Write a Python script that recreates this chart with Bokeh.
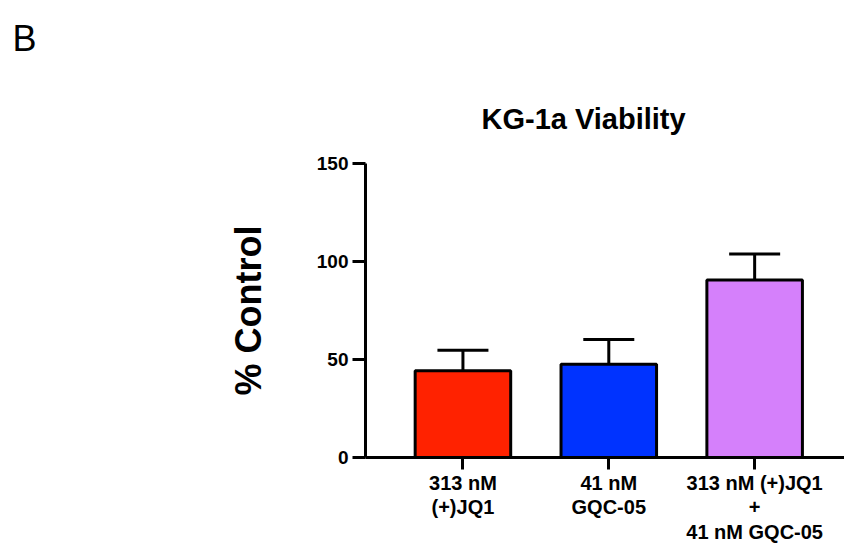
from bokeh.plotting import figure
from bokeh.models import ColumnDataSource, Whisker, TeeHead, FixedTicker, Title, Range1d
from bokeh.embed import file_html
from bokeh.resources import INLINE

categories = ["313 nM\n(+)JQ1", "41 nM\nGQC-05", "313 nM (+)JQ1\n+\n41 nM GQC-05"]
means = [44.2, 47.6, 90.5]
errors = [10.5, 12.6, 13.3]
colors = ["#FF2200", "#0033FF", "#D580FB"]
y_ticks = [0, 50, 100, 150]

FONT = "Liberation Sans"

xpos = list(range(len(categories)))
upper = [m + e for m, e in zip(means, errors)]
src = ColumnDataSource(dict(x=xpos, top=means, upper=upper, color=colors))

p = figure(width=844, height=546, output_backend="svg", toolbar_location=None,
           x_range=Range1d(-0.668, 2.616), y_range=Range1d(0, 150),
           min_border_left=365, min_border_right=0, min_border_top=163, min_border_bottom=89)

p.vbar(x="x", top="top", bottom=0, width=0.655, fill_color="color", line_color="black",
       line_width=3, source=src)

w = Whisker(base="x", lower="top", upper="upper", source=src, line_color="black", line_width=3,
            upper_head=TeeHead(size=51, line_width=3, line_color="black"), lower_head=None)
p.add_layout(w)

# panel letter (outermost title)
p.title.text = "B"
p.title.text_font = FONT
p.title.text_font_size = "36px"
p.title.text_font_style = "normal"
p.title.text_color = "black"
p.title.align = "left"
p.title.offset = -353
p.title.standoff = 26

chart_title = Title(text="KG-1a Viability", text_font=FONT, text_font_size="29px",
                    text_font_style="bold", text_color="black", align="left",
                    offset=116, standoff=58)
p.add_layout(chart_title, "above")

p.xgrid.visible = False
p.ygrid.visible = False
p.outline_line_color = None
p.background_fill_color = "white"
p.border_fill_color = "white"

ya = p.yaxis[0]
ya.ticker = FixedTicker(ticks=y_ticks)
ya.axis_line_width = 3
ya.major_tick_line_width = 3
ya.major_tick_out = 13
ya.major_tick_in = 0
ya.minor_tick_line_color = None
ya.major_label_standoff = 4
ya.major_label_text_font = FONT
ya.major_label_text_font_size = "19px"
ya.major_label_text_font_style = "bold"
ya.major_label_text_color = "black"
ya.axis_label = "% Control"
ya.axis_label_text_font = FONT
ya.axis_label_text_font_size = "36px"
ya.axis_label_text_font_style = "bold"
ya.axis_label_text_color = "black"
ya.axis_label_standoff = 45

xa = p.xaxis[0]
xa.ticker = FixedTicker(ticks=xpos)
xa.major_label_overrides = {i: c for i, c in enumerate(categories)}
xa.axis_line_width = 3
xa.major_tick_line_width = 3
xa.major_tick_out = 12
xa.major_tick_in = 0
xa.minor_tick_line_color = None
xa.major_label_standoff = 2
xa.major_label_text_font = FONT
xa.major_label_text_font_size = "20px"
xa.major_label_text_font_style = "bold"
xa.major_label_text_color = "black"
xa.major_label_text_line_height = 1.13

open("out.html", "w").write(file_html(p, INLINE))
